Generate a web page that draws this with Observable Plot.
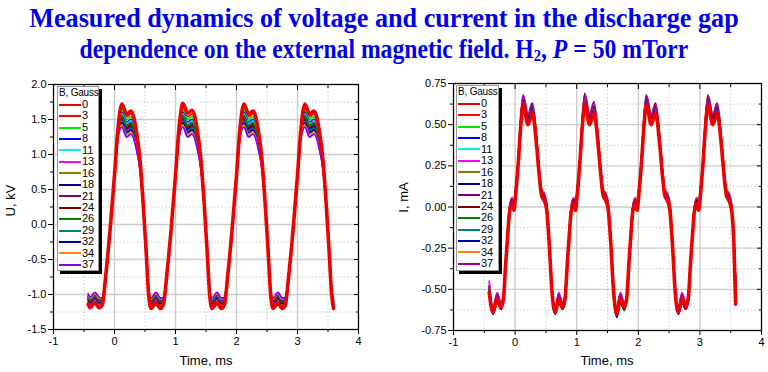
<!DOCTYPE html>
<html><head><meta charset="utf-8">
<script src="https://cdn.jsdelivr.net/npm/d3@7"></script>
<script src="https://cdn.jsdelivr.net/npm/@observablehq/plot@0.6"></script>
<style>
body{margin:0;background:#fff;}
#wrap{position:relative;width:768px;height:372px;overflow:hidden;background:#fff;font-family:"Liberation Sans",Arial,sans-serif;}
.tl{position:absolute;left:0;width:768px;height:31px;text-align:center;font-family:"Liberation Serif","Times New Roman",serif;font-weight:bold;color:#0000f0;font-size:28px;line-height:31px;white-space:nowrap;transform-origin:384px 50%;}
.tl sub{font-size:0.62em;line-height:0;vertical-align:-0.2em;}
.legend{position:absolute;background:#fff;border:1px solid #999;box-shadow:3px 3px 0 #000;font-size:11px;color:#000;box-sizing:border-box;}
.legend .ttl{height:12px;line-height:12px;padding-left:1px;white-space:nowrap;font-size:10px;letter-spacing:-0.2px;}
.legend .row{display:flex;align-items:center;height:11.45px;line-height:11.45px;}
.legend .sw{width:22px;height:2px;margin-left:1px;margin-right:1px;flex:none;}
.axlab{position:absolute;font-size:13px;white-space:nowrap;color:#000;}
</style></head><body>
<div id="wrap">
<div class="tl" style="top:2px;transform:scaleX(0.935)">Measured dynamics of voltage and current in the discharge gap</div>
<div class="tl" style="top:33px;transform:scaleX(0.845)">dependence on the external magnetic field. H<sub>2</sub>, <i>P</i> = 50 mTorr</div>
</div>
<script>
const fields = [0,3,5,8,11,13,16,18,21,24,26,29,32,34,37];
const colorsU = ["#ee0000","#ff0000","#00e600","#0000ff","#00eeee","#ff00ff","#808000","#000080","#800080","#800000","#008000","#008080","#0000a0","#ff8000","#8000ff"];
const colorsI = ["#ee0000","#ff0000","#00e600","#0000ff","#00eeee","#ff00ff","#808000","#000080","#800080","#800000","#008000","#008080","#0000a0","#ff8000","#990099"];
const xMajor = [-1,0,1,2,3,4];
const xMinor = [-0.5,0.5,1.5,2.5,3.5];
const uMajor = [-1.5,-1,-0.5,0,0.5,1,1.5,2];
const uMinor = [-1.25,-0.75,-0.25,0.25,0.75,1.25,1.75];
const iMajor = [-0.75,-0.5,-0.25,0,0.25,0.5,0.75];
const iMinor = [-0.625,-0.375,-0.125,0.125,0.375,0.625];

const timeU = [-0.43,-0.40,-0.32,-0.25,
-0.20,-0.14,-0.07,0.00,0.05,0.09,0.12,0.20,0.27,0.36,0.42,0.47,0.52,0.56,0.60,0.68,0.75,
0.80,0.86,0.93,1.00,1.05,1.09,1.12,1.20,1.27,1.36,1.42,1.47,1.52,1.56,1.60,1.68,1.75,
1.80,1.86,1.93,2.00,2.05,2.09,2.12,2.20,2.27,2.36,2.42,2.47,2.52,2.56,2.60,2.68,2.75,
2.80,2.86,2.93,3.00,3.05,3.09,3.12,3.20,3.27,3.36,3.42,3.47,3.52,3.56,
3.59];

const u0 = [-1.14,-1.19,-1.12,-1.19,
-1.15,-0.70,-0.05,0.70,1.30,1.62,1.72,1.58,1.62,1.33,0.90,0.30,-0.40,-1.00,-1.20,-1.12,-1.20,
-1.15,-0.70,-0.05,0.70,1.30,1.62,1.73,1.59,1.63,1.33,0.90,0.30,-0.40,-1.00,-1.20,-1.12,-1.20,
-1.15,-0.70,-0.05,0.70,1.30,1.62,1.72,1.58,1.62,1.33,0.90,0.30,-0.40,-1.00,-1.20,-1.12,-1.20,
-1.15,-0.70,-0.05,0.70,1.30,1.62,1.72,1.58,1.62,1.33,0.90,0.30,-0.40,-1.00,
-1.20];
const u3 = [-1.13,-1.18,-1.11,-1.18,
-1.14,-0.70,-0.05,0.70,1.29,1.59,1.68,1.54,1.58,1.30,0.88,0.30,-0.40,-1.00,-1.19,-1.11,-1.19,
-1.14,-0.70,-0.05,0.70,1.29,1.59,1.68,1.54,1.58,1.30,0.88,0.30,-0.40,-1.00,-1.19,-1.11,-1.19,
-1.14,-0.70,-0.05,0.70,1.29,1.59,1.68,1.54,1.58,1.30,0.88,0.30,-0.40,-1.00,-1.19,-1.11,-1.19,
-1.14,-0.70,-0.05,0.70,1.29,1.59,1.68,1.54,1.58,1.30,0.88,0.30,-0.40,-1.00,
-1.19];
const u5 = [-1.12,-1.17,-1.10,-1.17,
-1.14,-0.70,-0.05,0.70,1.28,1.56,1.64,1.50,1.54,1.27,0.87,0.29,-0.40,-0.99,-1.18,-1.10,-1.18,
-1.14,-0.70,-0.05,0.70,1.28,1.56,1.64,1.50,1.54,1.27,0.87,0.29,-0.40,-0.99,-1.18,-1.10,-1.18,
-1.14,-0.70,-0.05,0.70,1.28,1.56,1.64,1.50,1.54,1.27,0.87,0.29,-0.40,-0.99,-1.18,-1.10,-1.18,
-1.14,-0.70,-0.05,0.70,1.28,1.56,1.64,1.50,1.54,1.27,0.87,0.29,-0.40,-0.99,
-1.18];
const u8 = [-1.11,-1.16,-1.09,-1.16,
-1.13,-0.69,-0.05,0.70,1.26,1.52,1.60,1.46,1.50,1.23,0.85,0.29,-0.40,-0.99,-1.17,-1.09,-1.17,
-1.13,-0.69,-0.05,0.70,1.26,1.52,1.60,1.46,1.50,1.23,0.85,0.29,-0.40,-0.99,-1.17,-1.09,-1.17,
-1.13,-0.69,-0.05,0.70,1.26,1.52,1.60,1.46,1.50,1.23,0.85,0.29,-0.40,-0.99,-1.17,-1.09,-1.17,
-1.13,-0.69,-0.05,0.70,1.26,1.52,1.60,1.46,1.50,1.23,0.85,0.29,-0.40,-0.99,
-1.17];
const u11 = [-1.10,-1.15,-1.08,-1.15,
-1.12,-0.69,-0.05,0.70,1.26,1.51,1.58,1.44,1.48,1.22,0.84,0.29,-0.40,-0.99,-1.16,-1.08,-1.16,
-1.12,-0.69,-0.05,0.70,1.26,1.51,1.58,1.44,1.48,1.22,0.84,0.29,-0.40,-0.99,-1.16,-1.08,-1.16,
-1.12,-0.69,-0.05,0.70,1.26,1.51,1.58,1.44,1.48,1.22,0.84,0.29,-0.40,-0.99,-1.16,-1.08,-1.16,
-1.12,-0.69,-0.05,0.70,1.26,1.51,1.58,1.44,1.48,1.22,0.84,0.29,-0.40,-0.99,
-1.16];
const u13 = [-1.09,-1.14,-1.07,-1.14,
-1.12,-0.69,-0.05,0.70,1.25,1.49,1.56,1.42,1.46,1.20,0.84,0.28,-0.40,-0.98,-1.15,-1.07,-1.15,
-1.12,-0.69,-0.05,0.70,1.25,1.49,1.56,1.42,1.46,1.20,0.84,0.28,-0.40,-0.98,-1.15,-1.07,-1.15,
-1.12,-0.69,-0.05,0.70,1.25,1.49,1.56,1.42,1.46,1.20,0.84,0.28,-0.40,-0.98,-1.15,-1.07,-1.15,
-1.12,-0.69,-0.05,0.70,1.25,1.49,1.56,1.42,1.46,1.20,0.84,0.28,-0.40,-0.98,
-1.15];
const u16 = [-1.08,-1.13,-1.06,-1.13,
-1.11,-0.69,-0.05,0.70,1.25,1.48,1.54,1.40,1.44,1.19,0.83,0.28,-0.40,-0.98,-1.14,-1.06,-1.14,
-1.11,-0.69,-0.05,0.70,1.25,1.48,1.54,1.40,1.44,1.19,0.83,0.28,-0.40,-0.98,-1.14,-1.06,-1.14,
-1.11,-0.69,-0.05,0.70,1.25,1.48,1.54,1.40,1.44,1.19,0.83,0.28,-0.40,-0.98,-1.14,-1.06,-1.14,
-1.11,-0.69,-0.05,0.70,1.25,1.48,1.54,1.40,1.44,1.19,0.83,0.28,-0.40,-0.98,
-1.14];
const u18 = [-1.07,-1.12,-1.05,-1.12,
-1.10,-0.69,-0.05,0.70,1.24,1.45,1.51,1.37,1.41,1.16,0.82,0.28,-0.40,-0.98,-1.13,-1.05,-1.13,
-1.10,-0.69,-0.05,0.70,1.24,1.45,1.51,1.37,1.41,1.16,0.82,0.28,-0.40,-0.98,-1.13,-1.05,-1.13,
-1.10,-0.69,-0.05,0.70,1.24,1.45,1.51,1.37,1.41,1.16,0.82,0.28,-0.40,-0.98,-1.13,-1.05,-1.13,
-1.10,-0.69,-0.05,0.70,1.24,1.45,1.51,1.37,1.41,1.16,0.82,0.28,-0.40,-0.98,
-1.13];
const u21 = [-1.06,-1.11,-1.04,-1.11,
-1.09,-0.68,-0.05,0.70,1.23,1.44,1.49,1.35,1.39,1.15,0.81,0.28,-0.40,-0.98,-1.12,-1.04,-1.12,
-1.09,-0.68,-0.05,0.70,1.23,1.44,1.49,1.35,1.39,1.15,0.81,0.28,-0.40,-0.98,-1.12,-1.04,-1.12,
-1.09,-0.68,-0.05,0.70,1.23,1.44,1.49,1.35,1.39,1.15,0.81,0.28,-0.40,-0.98,-1.12,-1.04,-1.12,
-1.09,-0.68,-0.05,0.70,1.23,1.44,1.49,1.35,1.39,1.15,0.81,0.28,-0.40,-0.98,
-1.12];
const u24 = [-1.05,-1.10,-1.03,-1.10,
-1.09,-0.68,-0.05,0.70,1.24,1.47,1.53,1.39,1.43,1.18,0.82,0.28,-0.40,-0.97,-1.11,-1.03,-1.11,
-1.09,-0.68,-0.05,0.70,1.24,1.47,1.53,1.39,1.43,1.18,0.82,0.28,-0.40,-0.97,-1.11,-1.03,-1.11,
-1.09,-0.68,-0.05,0.70,1.24,1.47,1.53,1.39,1.43,1.18,0.82,0.28,-0.40,-0.97,-1.11,-1.03,-1.11,
-1.09,-0.68,-0.05,0.70,1.24,1.47,1.53,1.39,1.43,1.18,0.82,0.28,-0.40,-0.97,
-1.11];
const u26 = [-1.04,-1.09,-1.02,-1.09,
-1.08,-0.68,-0.05,0.70,1.25,1.48,1.55,1.41,1.45,1.19,0.83,0.28,-0.40,-0.97,-1.10,-1.02,-1.10,
-1.08,-0.68,-0.05,0.70,1.25,1.48,1.55,1.41,1.45,1.19,0.83,0.28,-0.40,-0.97,-1.10,-1.02,-1.10,
-1.08,-0.68,-0.05,0.70,1.25,1.48,1.55,1.41,1.45,1.19,0.83,0.28,-0.40,-0.97,-1.10,-1.02,-1.10,
-1.08,-0.68,-0.05,0.70,1.25,1.48,1.55,1.41,1.45,1.19,0.83,0.28,-0.40,-0.97,
-1.10];
const u29 = [-1.03,-1.08,-1.01,-1.08,
-1.07,-0.68,-0.05,0.70,1.23,1.42,1.47,1.33,1.37,1.13,0.80,0.28,-0.40,-0.97,-1.09,-1.01,-1.09,
-1.07,-0.68,-0.05,0.70,1.23,1.42,1.47,1.33,1.37,1.13,0.80,0.28,-0.40,-0.97,-1.09,-1.01,-1.09,
-1.07,-0.68,-0.05,0.70,1.23,1.42,1.47,1.33,1.37,1.13,0.80,0.28,-0.40,-0.97,-1.09,-1.01,-1.09,
-1.07,-0.68,-0.05,0.70,1.23,1.42,1.47,1.33,1.37,1.13,0.80,0.28,-0.40,-0.97,
-1.09];
const u32 = [-1.02,-1.07,-1.00,-1.07,
-1.07,-0.68,-0.05,0.70,1.22,1.40,1.45,1.31,1.35,1.11,0.79,0.27,-0.40,-0.96,-1.08,-1.00,-1.08,
-1.07,-0.68,-0.05,0.70,1.22,1.40,1.45,1.31,1.35,1.11,0.79,0.27,-0.40,-0.96,-1.08,-1.00,-1.08,
-1.07,-0.68,-0.05,0.70,1.22,1.40,1.45,1.31,1.35,1.11,0.79,0.27,-0.40,-0.96,-1.08,-1.00,-1.08,
-1.07,-0.68,-0.05,0.70,1.22,1.40,1.45,1.31,1.35,1.11,0.79,0.27,-0.40,-0.96,
-1.08];
const u34 = [-1.01,-1.06,-0.99,-1.06,
-1.06,-0.67,-0.05,0.70,1.21,1.38,1.42,1.28,1.32,1.09,0.78,0.27,-0.40,-0.96,-1.07,-0.99,-1.07,
-1.06,-0.67,-0.05,0.70,1.21,1.38,1.42,1.28,1.32,1.09,0.78,0.27,-0.40,-0.96,-1.07,-0.99,-1.07,
-1.06,-0.67,-0.05,0.70,1.21,1.38,1.42,1.28,1.32,1.09,0.78,0.27,-0.40,-0.96,-1.07,-0.99,-1.07,
-1.06,-0.67,-0.05,0.70,1.21,1.38,1.42,1.28,1.32,1.09,0.78,0.27,-0.40,-0.96,
-1.07];
const u37 = [-0.99,-1.04,-0.97,-1.04,
-1.05,-0.67,-0.05,0.70,1.20,1.36,1.39,1.25,1.29,1.07,0.77,0.27,-0.40,-0.96,-1.05,-0.97,-1.05,
-1.05,-0.67,-0.05,0.70,1.20,1.36,1.39,1.25,1.29,1.07,0.77,0.27,-0.40,-0.96,-1.05,-0.97,-1.05,
-1.05,-0.67,-0.05,0.70,1.20,1.36,1.39,1.25,1.29,1.07,0.77,0.27,-0.40,-0.96,-1.05,-0.97,-1.05,
-1.05,-0.67,-0.05,0.70,1.20,1.36,1.39,1.25,1.29,1.07,0.77,0.27,-0.40,-0.96,
-1.05];

const timeI = [-0.42,-0.36,-0.29,-0.23,
-0.19,-0.15,-0.12,-0.09,-0.05,-0.02,0.01,0.05,0.09,0.13,0.21,0.28,0.35,0.39,0.43,0.47,0.51,0.55,0.60,0.65,0.71,0.77,
0.81,0.85,0.88,0.91,0.95,0.98,1.01,1.05,1.09,1.13,1.21,1.28,1.35,1.39,1.43,1.47,1.51,1.55,1.60,1.65,1.71,1.77,
1.81,1.85,1.88,1.91,1.95,1.98,2.01,2.05,2.09,2.13,2.21,2.28,2.35,2.39,2.43,2.47,2.51,2.55,2.60,2.65,2.71,2.77,
2.81,2.85,2.88,2.91,2.95,2.98,3.01,3.05,3.09,3.13,3.21,3.28,3.35,3.39,3.43,3.47,3.51,3.55,
3.58];

const i0 = [-0.52,-0.64,-0.56,-0.61,
-0.56,-0.33,-0.17,-0.03,0.02,-0.02,0.08,0.26,0.48,0.62,0.50,0.57,0.37,0.20,0.07,0.04,-0.01,-0.20,-0.52,-0.64,-0.56,-0.61,
-0.56,-0.33,-0.17,-0.03,0.02,-0.02,0.08,0.26,0.48,0.62,0.50,0.57,0.37,0.20,0.07,0.04,-0.01,-0.20,-0.52,-0.65,-0.56,-0.61,
-0.56,-0.33,-0.17,-0.03,0.02,-0.02,0.08,0.26,0.48,0.62,0.50,0.57,0.37,0.20,0.07,0.04,-0.01,-0.20,-0.52,-0.64,-0.56,-0.61,
-0.56,-0.33,-0.17,-0.03,0.02,-0.02,0.08,0.26,0.48,0.62,0.50,0.57,0.37,0.20,0.07,0.04,-0.01,-0.20,
-0.59];
const i3 = [-0.50,-0.63,-0.54,-0.60,
-0.55,-0.33,-0.17,-0.02,0.03,-0.01,0.09,0.26,0.49,0.63,0.51,0.58,0.38,0.20,0.08,0.05,0.00,-0.20,-0.51,-0.63,-0.54,-0.60,
-0.55,-0.33,-0.17,-0.02,0.03,-0.01,0.09,0.26,0.49,0.63,0.51,0.58,0.38,0.20,0.08,0.05,0.00,-0.20,-0.51,-0.63,-0.54,-0.60,
-0.55,-0.33,-0.17,-0.02,0.03,-0.01,0.09,0.26,0.49,0.63,0.51,0.58,0.38,0.20,0.08,0.05,0.00,-0.20,-0.51,-0.63,-0.54,-0.60,
-0.55,-0.33,-0.17,-0.02,0.03,-0.01,0.09,0.26,0.49,0.63,0.51,0.58,0.38,0.20,0.08,0.05,0.00,-0.20,
-0.50];
const i5 = [-0.49,-0.64,-0.56,-0.61,
-0.56,-0.33,-0.16,-0.02,0.03,0.00,0.09,0.27,0.50,0.64,0.52,0.59,0.38,0.21,0.08,0.06,0.00,-0.20,-0.52,-0.64,-0.56,-0.61,
-0.56,-0.33,-0.16,-0.02,0.03,0.00,0.09,0.27,0.50,0.64,0.52,0.59,0.38,0.21,0.08,0.06,0.00,-0.20,-0.52,-0.64,-0.56,-0.62,
-0.56,-0.33,-0.16,-0.02,0.03,0.00,0.09,0.27,0.50,0.64,0.52,0.59,0.38,0.21,0.08,0.06,0.00,-0.20,-0.52,-0.64,-0.56,-0.61,
-0.56,-0.33,-0.16,-0.02,0.03,0.00,0.09,0.27,0.50,0.64,0.52,0.59,0.38,0.21,0.08,0.06,0.00,-0.20,
-0.48];
const i8 = [-0.51,-0.65,-0.57,-0.62,
-0.57,-0.32,-0.16,-0.02,0.04,0.00,0.10,0.27,0.50,0.65,0.53,0.60,0.39,0.21,0.09,0.06,0.01,-0.20,-0.53,-0.65,-0.58,-0.62,
-0.57,-0.32,-0.16,-0.02,0.04,0.00,0.10,0.27,0.50,0.65,0.53,0.60,0.39,0.21,0.09,0.06,0.01,-0.20,-0.53,-0.66,-0.58,-0.62,
-0.57,-0.32,-0.16,-0.02,0.04,0.00,0.10,0.27,0.50,0.65,0.53,0.60,0.39,0.21,0.09,0.06,0.01,-0.20,-0.53,-0.65,-0.58,-0.62,
-0.57,-0.32,-0.16,-0.02,0.04,0.00,0.10,0.27,0.50,0.65,0.53,0.60,0.39,0.21,0.09,0.06,0.01,-0.20,
-0.49];
const i11 = [-0.50,-0.63,-0.54,-0.60,
-0.55,-0.33,-0.16,-0.02,0.03,0.00,0.09,0.27,0.50,0.64,0.52,0.59,0.38,0.21,0.08,0.06,0.00,-0.20,-0.51,-0.63,-0.54,-0.60,
-0.55,-0.33,-0.16,-0.02,0.03,0.00,0.09,0.27,0.50,0.64,0.52,0.59,0.38,0.21,0.08,0.06,0.00,-0.20,-0.51,-0.63,-0.54,-0.60,
-0.55,-0.33,-0.16,-0.02,0.03,0.00,0.09,0.27,0.50,0.64,0.52,0.59,0.38,0.21,0.08,0.06,0.00,-0.20,-0.51,-0.63,-0.54,-0.60,
-0.55,-0.33,-0.16,-0.02,0.03,0.00,0.09,0.27,0.50,0.64,0.52,0.59,0.38,0.21,0.08,0.06,0.00,-0.20,
-0.47];
const i13 = [-0.45,-0.61,-0.52,-0.58,
-0.54,-0.33,-0.17,-0.01,0.04,0.01,0.08,0.26,0.48,0.63,0.51,0.58,0.37,0.20,0.09,0.07,0.02,-0.20,-0.50,-0.61,-0.52,-0.58,
-0.54,-0.33,-0.17,-0.01,0.04,0.01,0.08,0.26,0.48,0.63,0.51,0.58,0.37,0.20,0.09,0.07,0.02,-0.20,-0.50,-0.61,-0.52,-0.58,
-0.54,-0.33,-0.17,-0.01,0.04,0.01,0.08,0.26,0.48,0.63,0.51,0.58,0.37,0.20,0.09,0.07,0.02,-0.20,-0.50,-0.61,-0.52,-0.58,
-0.54,-0.33,-0.17,-0.01,0.04,0.01,0.08,0.26,0.48,0.63,0.51,0.58,0.37,0.20,0.09,0.07,0.02,-0.20,
-0.46];
const i16 = [-0.49,-0.63,-0.54,-0.60,
-0.55,-0.32,-0.16,-0.01,0.04,0.00,0.10,0.27,0.50,0.65,0.53,0.60,0.39,0.21,0.09,0.06,0.01,-0.19,-0.51,-0.63,-0.54,-0.60,
-0.55,-0.32,-0.16,-0.01,0.04,0.00,0.10,0.27,0.50,0.65,0.53,0.60,0.39,0.21,0.09,0.06,0.01,-0.19,-0.51,-0.63,-0.54,-0.60,
-0.55,-0.32,-0.16,-0.01,0.04,0.00,0.10,0.27,0.50,0.65,0.53,0.60,0.39,0.21,0.09,0.06,0.01,-0.19,-0.51,-0.63,-0.54,-0.60,
-0.55,-0.32,-0.16,-0.01,0.04,0.00,0.10,0.27,0.50,0.65,0.53,0.60,0.39,0.21,0.09,0.06,0.01,-0.19,
-0.48];
const i18 = [-0.50,-0.64,-0.56,-0.61,
-0.56,-0.32,-0.16,-0.01,0.04,0.01,0.10,0.27,0.51,0.66,0.54,0.61,0.39,0.22,0.09,0.07,0.01,-0.19,-0.52,-0.64,-0.56,-0.61,
-0.56,-0.32,-0.16,-0.01,0.04,0.01,0.10,0.27,0.51,0.66,0.54,0.61,0.39,0.22,0.09,0.07,0.01,-0.19,-0.52,-0.65,-0.56,-0.61,
-0.56,-0.32,-0.16,-0.01,0.04,0.01,0.10,0.27,0.51,0.66,0.54,0.61,0.39,0.22,0.09,0.07,0.01,-0.19,-0.52,-0.64,-0.56,-0.61,
-0.56,-0.32,-0.16,-0.01,0.04,0.01,0.10,0.27,0.51,0.66,0.54,0.61,0.39,0.22,0.09,0.07,0.01,-0.19,
-0.49];
const i21 = [-0.48,-0.62,-0.53,-0.59,
-0.55,-0.32,-0.16,-0.01,0.05,0.02,0.11,0.28,0.52,0.67,0.55,0.62,0.40,0.22,0.10,0.08,0.02,-0.19,-0.51,-0.62,-0.53,-0.59,
-0.55,-0.32,-0.16,-0.01,0.05,0.02,0.11,0.28,0.52,0.68,0.55,0.63,0.40,0.22,0.10,0.08,0.02,-0.19,-0.51,-0.62,-0.53,-0.59,
-0.55,-0.32,-0.16,-0.01,0.05,0.02,0.11,0.28,0.52,0.67,0.55,0.62,0.40,0.22,0.10,0.08,0.02,-0.19,-0.51,-0.62,-0.53,-0.59,
-0.55,-0.32,-0.16,-0.01,0.05,0.02,0.11,0.28,0.52,0.67,0.55,0.62,0.40,0.22,0.10,0.08,0.02,-0.19,
-0.47];
const i24 = [-0.50,-0.63,-0.54,-0.60,
-0.55,-0.32,-0.16,-0.01,0.04,0.01,0.10,0.27,0.51,0.66,0.54,0.61,0.39,0.22,0.09,0.07,0.01,-0.19,-0.51,-0.63,-0.54,-0.60,
-0.55,-0.32,-0.16,-0.01,0.04,0.01,0.10,0.27,0.51,0.66,0.54,0.61,0.39,0.22,0.09,0.07,0.01,-0.19,-0.51,-0.63,-0.54,-0.60,
-0.55,-0.32,-0.16,-0.01,0.04,0.01,0.10,0.27,0.51,0.66,0.54,0.61,0.39,0.22,0.09,0.07,0.01,-0.19,-0.51,-0.63,-0.54,-0.60,
-0.55,-0.32,-0.16,-0.01,0.04,0.01,0.10,0.27,0.51,0.66,0.54,0.61,0.39,0.22,0.09,0.07,0.01,-0.19,
-0.49];
const i26 = [-0.49,-0.63,-0.54,-0.60,
-0.55,-0.32,-0.16,-0.01,0.04,0.01,0.10,0.28,0.51,0.66,0.54,0.61,0.40,0.22,0.09,0.07,0.01,-0.19,-0.51,-0.63,-0.54,-0.60,
-0.55,-0.32,-0.16,-0.01,0.04,0.01,0.10,0.28,0.51,0.66,0.54,0.61,0.40,0.22,0.09,0.07,0.01,-0.19,-0.52,-0.64,-0.55,-0.63,
-0.55,-0.32,-0.16,-0.01,0.04,0.01,0.10,0.28,0.51,0.66,0.54,0.61,0.40,0.22,0.09,0.07,0.01,-0.19,-0.51,-0.63,-0.54,-0.60,
-0.55,-0.32,-0.16,-0.01,0.04,0.01,0.10,0.28,0.51,0.66,0.54,0.61,0.40,0.22,0.09,0.07,0.01,-0.19,
-0.48];
const i29 = [-0.50,-0.64,-0.56,-0.61,
-0.56,-0.32,-0.16,-0.01,0.04,0.01,0.10,0.27,0.51,0.65,0.54,0.60,0.39,0.22,0.09,0.07,0.01,-0.19,-0.52,-0.64,-0.56,-0.61,
-0.56,-0.32,-0.16,-0.01,0.04,0.01,0.10,0.27,0.51,0.65,0.54,0.60,0.39,0.22,0.09,0.07,0.01,-0.19,-0.52,-0.64,-0.56,-0.61,
-0.56,-0.32,-0.16,-0.01,0.04,0.01,0.10,0.27,0.51,0.65,0.54,0.60,0.39,0.22,0.09,0.07,0.01,-0.19,-0.52,-0.64,-0.56,-0.61,
-0.56,-0.32,-0.16,-0.01,0.04,0.01,0.10,0.27,0.51,0.65,0.54,0.60,0.39,0.22,0.09,0.07,0.01,-0.19,
-0.49];
const i32 = [-0.51,-0.65,-0.58,-0.62,
-0.57,-0.32,-0.16,-0.01,0.04,0.01,0.10,0.28,0.51,0.66,0.54,0.61,0.40,0.22,0.09,0.07,0.01,-0.19,-0.53,-0.65,-0.58,-0.62,
-0.57,-0.32,-0.16,-0.01,0.04,0.01,0.10,0.28,0.51,0.66,0.54,0.61,0.40,0.22,0.09,0.07,0.01,-0.19,-0.54,-0.67,-0.58,-0.62,
-0.57,-0.32,-0.16,-0.01,0.04,0.01,0.10,0.28,0.51,0.66,0.54,0.61,0.40,0.22,0.09,0.07,0.01,-0.19,-0.53,-0.65,-0.58,-0.62,
-0.57,-0.32,-0.16,-0.01,0.04,0.01,0.10,0.28,0.51,0.66,0.54,0.61,0.40,0.22,0.09,0.07,0.01,-0.19,
-0.49];
const i34 = [-0.48,-0.62,-0.53,-0.59,
-0.55,-0.32,-0.15,0.00,0.06,0.03,0.12,0.28,0.53,0.68,0.56,0.63,0.41,0.23,0.11,0.09,0.03,-0.19,-0.51,-0.62,-0.53,-0.59,
-0.55,-0.32,-0.15,0.00,0.06,0.03,0.12,0.28,0.53,0.68,0.56,0.63,0.41,0.23,0.11,0.09,0.03,-0.19,-0.51,-0.62,-0.53,-0.59,
-0.55,-0.32,-0.15,0.00,0.06,0.03,0.12,0.28,0.53,0.68,0.56,0.63,0.41,0.23,0.11,0.09,0.03,-0.19,-0.51,-0.62,-0.53,-0.59,
-0.55,-0.32,-0.15,0.00,0.06,0.03,0.12,0.28,0.53,0.68,0.56,0.63,0.41,0.23,0.11,0.09,0.03,-0.19,
-0.47];
const i37 = [-0.48,-0.62,-0.53,-0.59,
-0.55,-0.32,-0.15,0.00,0.05,0.02,0.11,0.28,0.52,0.68,0.56,0.63,0.41,0.23,0.10,0.08,0.02,-0.19,-0.51,-0.62,-0.53,-0.59,
-0.55,-0.32,-0.15,0.00,0.05,0.02,0.11,0.28,0.52,0.69,0.56,0.64,0.41,0.23,0.10,0.08,0.02,-0.19,-0.51,-0.62,-0.53,-0.59,
-0.55,-0.32,-0.15,0.00,0.05,0.02,0.11,0.28,0.52,0.68,0.56,0.63,0.41,0.23,0.10,0.08,0.02,-0.19,-0.51,-0.62,-0.53,-0.59,
-0.55,-0.32,-0.15,0.00,0.05,0.02,0.11,0.28,0.52,0.68,0.56,0.63,0.41,0.23,0.10,0.08,0.02,-0.19,
-0.46];

const seriesU = [u0,u3,u5,u8,u11,u13,u16,u18,u21,u24,u26,u29,u32,u34,u37];
const seriesI = [i0,i3,i5,i8,i11,i13,i16,i18,i21,i24,i26,i29,i32,i34,i37];

function rowsOf(time, series) {
  const rows = [];
  series.forEach((arr, k) => {
    if (arr.length !== time.length) console.error("length mismatch", fields[k], arr.length, time.length);
    arr.forEach((v, j) => rows.push({t: time[j], v, f: String(fields[k])}));
  });
  return rows;
}

function chart({time, series, colors, yDomain, yMajor, yMinor, fmt, ml, mr, mt, mb}) {
  const rows = rowsOf(time, series);
  const others = rows.filter(d => d.f !== "0");
  const zero = rows.filter(d => d.f === "0");
  const grid = "#cccccc";
  const none = () => "";
  return Plot.plot({
    width: 384, height: 310,
    marginLeft: ml, marginRight: mr, marginTop: mt, marginBottom: mb,
    x: {domain: [-1, 4]},
    y: {domain: yDomain},
    color: {domain: fields.map(String), range: colors},
    style: {fontFamily: "'Liberation Sans', Arial, sans-serif", fontSize: "11px", background: "transparent", color: "#000", overflow: "visible"},
    marks: [
      Plot.ruleX(xMinor, {stroke: grid, strokeDasharray: "1.5,2"}),
      Plot.ruleY(yMinor, {stroke: grid, strokeDasharray: "1.5,2"}),
      Plot.ruleX(xMajor, {stroke: grid, strokeWidth: 1.4}),
      Plot.ruleY(yMajor, {stroke: grid, strokeWidth: 1.4}),
      Plot.line(others, {x: "t", y: "v", z: "f", stroke: "f", strokeWidth: 1.8, curve: "monotone-x"}),
      Plot.line(zero, {x: "t", y: "v", z: "f", stroke: "f", strokeWidth: 3.6, curve: "monotone-x"}),
      Plot.frame({stroke: "#000", strokeWidth: 1.2}),
      Plot.axisX({ticks: xMajor, tickSize: 5, tickPadding: 3, tickFormat: d => d.toFixed(0), label: null}),
      Plot.axisX({ticks: xMinor, tickSize: 3, tickFormat: none, label: null}),
      Plot.axisX({anchor: "top", ticks: xMajor, tickSize: -5, tickFormat: none, label: null}),
      Plot.axisX({anchor: "top", ticks: xMinor, tickSize: -3, tickFormat: none, label: null}),
      Plot.axisY({ticks: yMajor, tickSize: 5, tickPadding: 2, tickFormat: fmt, label: null}),
      Plot.axisY({ticks: yMinor, tickSize: 3, tickFormat: none, label: null}),
      Plot.axisY({anchor: "right", ticks: yMajor, tickSize: -5, tickFormat: none, label: null}),
      Plot.axisY({anchor: "right", ticks: yMinor, tickSize: -3, tickFormat: none, label: null})
    ]
  });
}

const wrap = document.getElementById("wrap");

const left = chart({time: timeU, series: seriesU, colors: colorsU, yDomain: [-1.5, 2.0], yMajor: uMajor, yMinor: uMinor,
  fmt: d => d.toFixed(1), ml: 53, mr: 26, mt: 22, mb: 43});
Object.assign(left.style, {position: "absolute", left: "0px", top: "62px"});
wrap.appendChild(left);

const right = chart({time: timeI, series: seriesI, colors: colorsI, yDomain: [-0.75, 0.75], yMajor: iMajor, yMinor: iMinor,
  fmt: d => d.toFixed(2), ml: 69, mr: 7, mt: 21, mb: 42});
Object.assign(right.style, {position: "absolute", left: "384px", top: "62px"});
wrap.appendChild(right);

function legend(x, y, w, h, colors) {
  const box = document.createElement("div");
  box.className = "legend";
  Object.assign(box.style, {left: x + "px", top: y + "px", width: w + "px", height: h + "px"});
  const ttl = document.createElement("div");
  ttl.className = "ttl"; ttl.textContent = "B, Gauss";
  box.appendChild(ttl);
  fields.forEach((f, k) => {
    const row = document.createElement("div"); row.className = "row";
    const sw = document.createElement("span"); sw.className = "sw"; sw.style.background = colors[k];
    const lab = document.createElement("span"); lab.textContent = String(f);
    row.appendChild(sw); row.appendChild(lab); box.appendChild(row);
  });
  wrap.appendChild(box);
}
legend(57, 86, 42, 185, colorsU);
legend(456, 85, 43, 186, colorsI);

function label(text, cx, cy, rotate) {
  const el = document.createElement("div");
  el.className = "axlab"; el.textContent = text;
  wrap.appendChild(el);
  const w = el.offsetWidth, h = el.offsetHeight;
  el.style.left = (cx - w / 2) + "px"; el.style.top = (cy - h / 2) + "px";
  if (rotate) el.style.transform = "rotate(-90deg)";
}
label("U, kV", 11, 200, true);
label("I, mA", 403, 197, true);
label("Time, ms", 206, 360, false);
label("Time, ms", 607, 360, false);
</script>
</body></html>
